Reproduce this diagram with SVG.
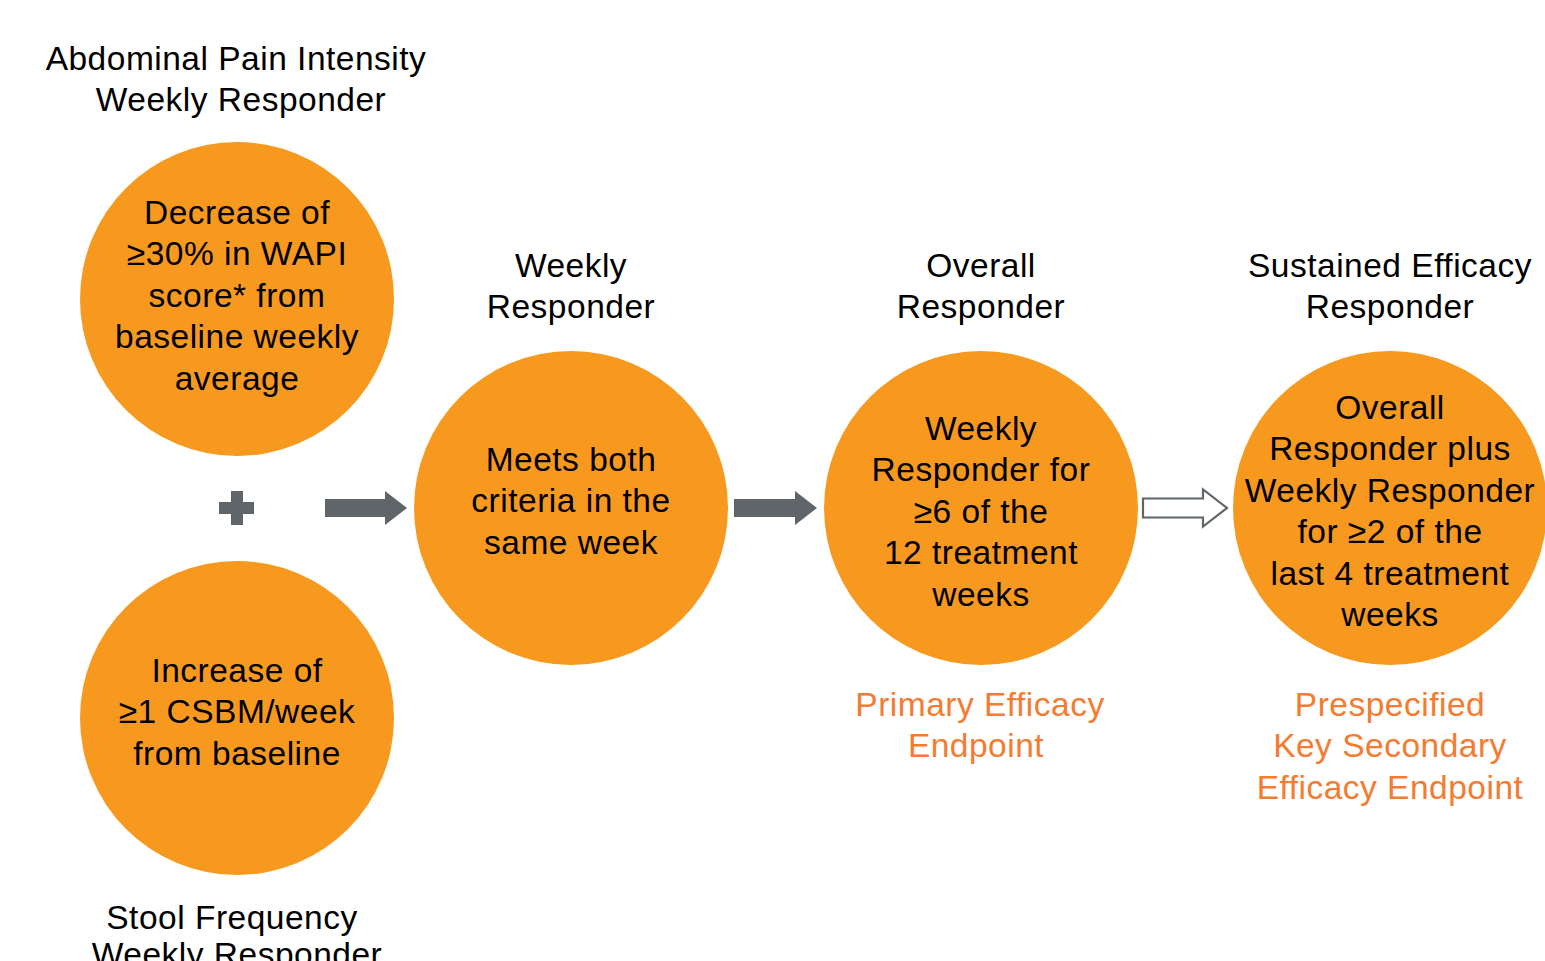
<svg xmlns="http://www.w3.org/2000/svg" width="1545" height="961" viewBox="0 0 1545 961">
<style>
text{font-family:"Liberation Sans",Arial,sans-serif;font-size:33.5px;letter-spacing:0.5px;text-anchor:middle;fill:#000}
.ep{fill:#F47B30}
.c{fill:#F7991F}
.solid{fill:#5F6569}
.open{fill:#fff;stroke:#5F6569;stroke-width:2.2}
</style>
<rect width="1545" height="961" fill="#fff"/>
<g id="title-api"><text x="236" y="70">Abdominal Pain Intensity</text><text x="241" y="111">Weekly Responder</text></g>
<g id="node-wapi"><circle class="c" cx="237" cy="299" r="157"/>
<text x="237" y="224">Decrease of</text><text x="237" y="265">≥30% in WAPI</text><text x="237" y="307">score* from</text><text x="237" y="348">baseline weekly</text><text x="237" y="390">average</text></g>
<g id="plus"><rect class="solid" x="219" y="502" width="35" height="12"/><rect class="solid" x="231" y="491" width="12" height="34"/></g>
<g id="node-csbm"><circle class="c" cx="237" cy="718" r="157"/>
<text x="237" y="682">Increase of</text><text x="237" y="723">≥1 CSBM/week</text><text x="237" y="765">from baseline</text></g>
<g id="title-sf"><text x="232" y="929">Stool Frequency</text><text x="237" y="966">Weekly Responder</text></g>
<g id="node-weekly"><text x="571" y="277">Weekly</text><text x="571" y="318">Responder</text>
<circle class="c" cx="571" cy="508" r="157"/>
<text x="571" y="471">Meets both</text><text x="571" y="512">criteria in the</text><text x="571" y="554">same week</text></g>
<g id="node-overall"><text x="981" y="277">Overall</text><text x="981" y="318">Responder</text>
<circle class="c" cx="981" cy="508" r="157"/>
<text x="981" y="440">Weekly</text><text x="981" y="481">Responder for</text><text x="981" y="523">≥6 of the</text><text x="981" y="564">12 treatment</text><text x="981" y="606">weeks</text>
<text class="ep" x="980" y="716">Primary Efficacy</text><text class="ep" x="976" y="757">Endpoint</text></g>
<g id="node-sustained"><text x="1390" y="277">Sustained Efficacy</text><text x="1390" y="318">Responder</text>
<circle class="c" cx="1390" cy="508" r="157"/>
<text x="1390" y="419">Overall</text><text x="1390" y="460">Responder plus</text><text x="1390" y="502">Weekly Responder</text><text x="1390" y="543">for ≥2 of the</text><text x="1390" y="585">last 4 treatment</text><text x="1390" y="626">weeks</text>
<text class="ep" x="1390" y="716">Prespecified</text><text class="ep" x="1390" y="757">Key Secondary</text><text class="ep" x="1390" y="799">Efficacy Endpoint</text></g>
<g id="connectors">
<path class="solid" d="M325 499H385V491L407 508L385 525V517H325Z"/>
<path class="solid" d="M734 499H795V491L817 508L795 525V517H734Z"/>
<path class="open" d="M1143 498.5H1203V489.5L1227 508L1203 526.5V517.5H1143Z"/>
</g>
</svg>
